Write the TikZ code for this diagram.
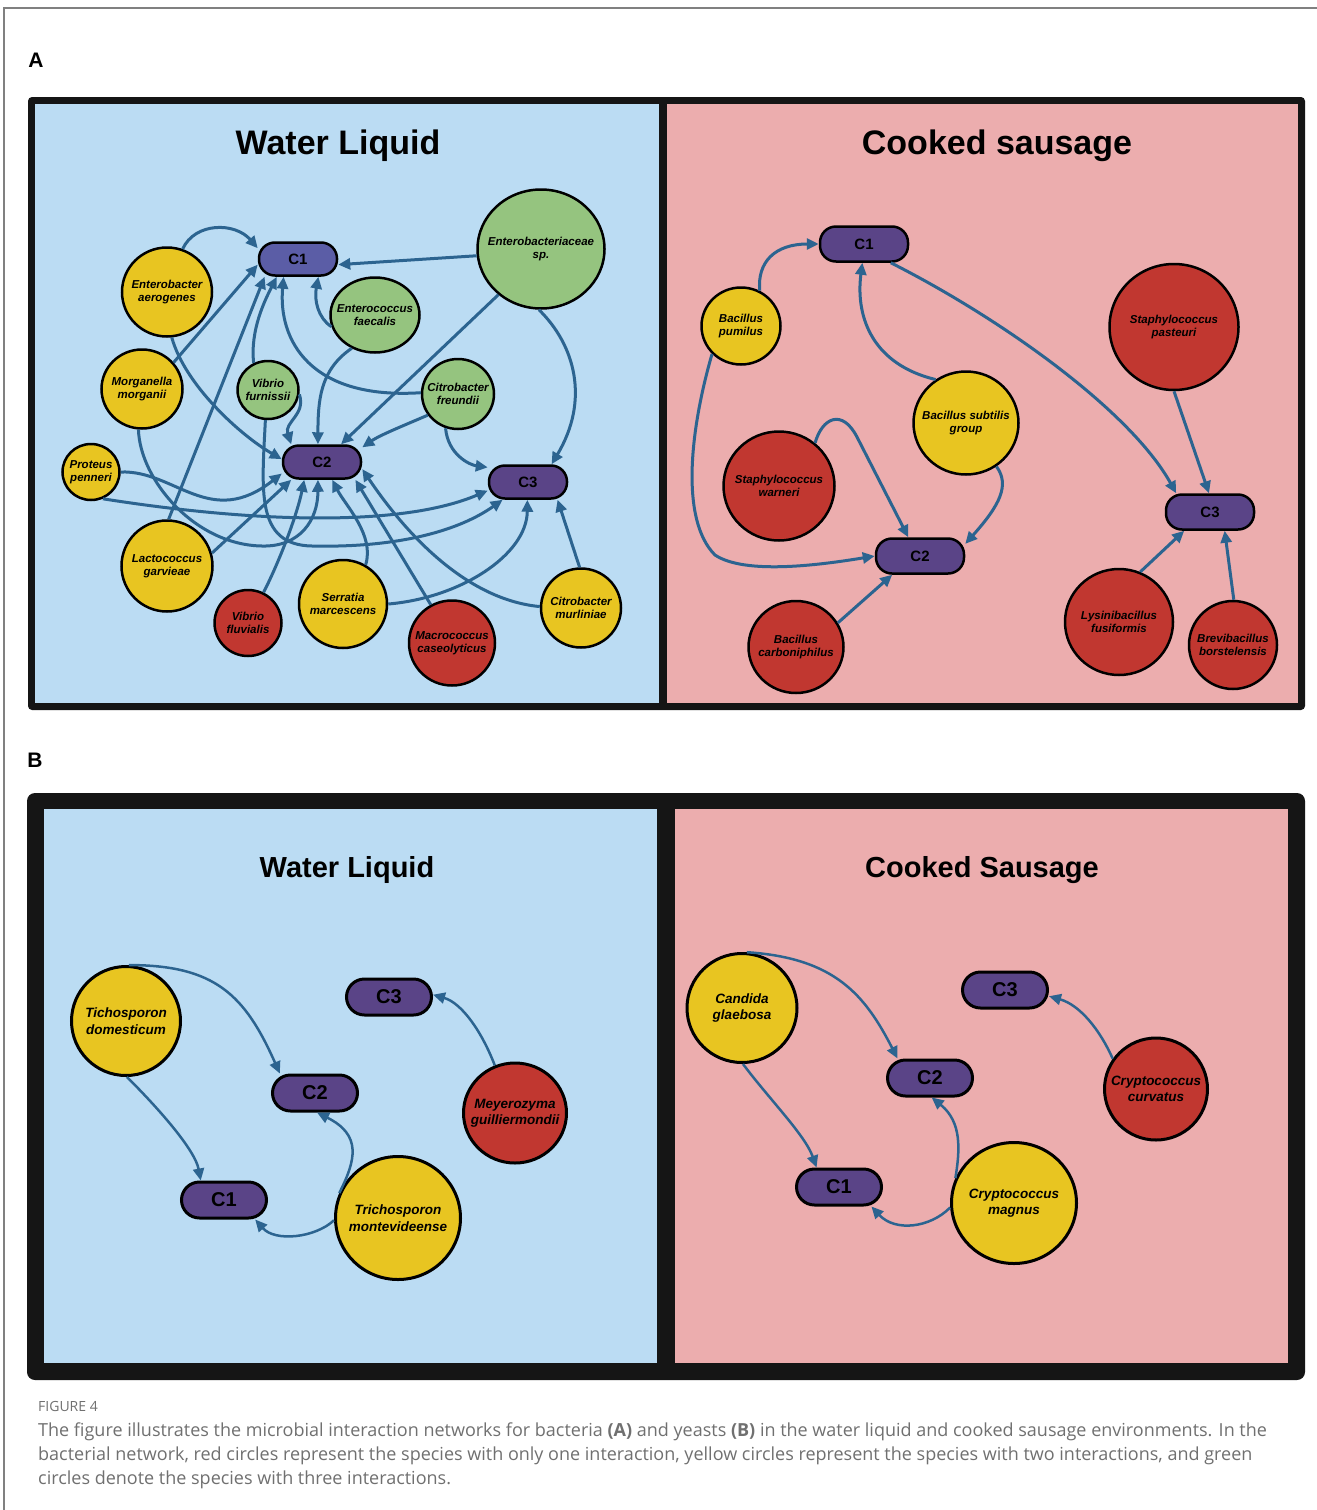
\documentclass[tikz,border=0pt]{standalone}
\usepackage{fontspec}
\setmainfont{Liberation Sans}
\newfontfamily\captionfont{Open Sans}
\usetikzlibrary{arrows.meta,shapes.geometric}

\definecolor{waterbg}{HTML}{BBDCF3}
\definecolor{sausagebg}{HTML}{ECADAE}
\definecolor{nodeyellow}{HTML}{E8C521}
\definecolor{nodered}{HTML}{C13730}
\definecolor{nodegreen}{HTML}{95C47F}
\definecolor{clusterpurple}{HTML}{5A4487}
\definecolor{clusterblue}{HTML}{5B5DA6}
\definecolor{linkblue}{HTML}{2C6490}
\definecolor{framedark}{HTML}{151515}
\definecolor{captiongray}{HTML}{707070}

\tikzset{
  panellabel/.style={font=\fontsize{21}{21}\selectfont\bfseries, inner sep=0pt},
  titleA/.style={font=\fontsize{34}{40}\selectfont\bfseries, inner sep=0pt},
  titleB/.style={font=\fontsize{29}{34}\selectfont\bfseries, inner sep=0pt},
  sz/.style 2 args={minimum width=#1pt, minimum height=#2pt},
  species/.style={ellipse, draw=black, line width=2.5pt, inner sep=0pt},
  yellownode/.style={species, fill=nodeyellow},
  rednode/.style={species, fill=nodered},
  greennode/.style={species, fill=nodegreen},
  sptext/.style={align=center, inner sep=0pt, font=\fontsize{11.5}{13.5}\selectfont\bfseries\itshape},
  sptextB/.style={align=center, inner sep=0pt, font=\fontsize{13.5}{16.5}\selectfont\bfseries\itshape},
  cluster/.style={rectangle, rounded corners=16pt, draw=black, line width=2.5pt, fill=clusterpurple, inner sep=0pt, font=\fontsize{15}{15}\selectfont\bfseries},
  clusterB/.style={cluster, rounded corners=18pt, line width=3pt, font=\fontsize{20}{20}\selectfont\bfseries},
  linkA/.style={draw=linkblue, line width=3pt, -{Triangle[length=12pt,width=11pt]}},
  linkB/.style={linkA, line width=2.5pt},
  captext/.style={anchor=base west, inner sep=0pt, text=captiongray, font=\captionfont\fontsize{18}{24}\selectfont},
}

\begin{document}
\begin{tikzpicture}[x=1pt, y=-1pt]
        \useasboundingbox (0,0) rectangle (1317,1510);
        \fill[white] (0,0) rectangle (1317,1510);
        \draw[gray, line width=1.5pt] (4,1510) -- (4,8) -- (1317,8);
        \node[panellabel] (labA) at (36,60) {A};
        \node[panellabel] (labB) at (35,760) {B};

        % Panel A frames
        \fill[framedark, rounded corners=4pt] (28,97) rectangle (1305,710);
        \fill[waterbg] (35,104) rectangle (659,703);
        \fill[sausagebg] (667,104) rectangle (1298,703);
        \node[titleA] (titleWA) at (338,146) {Water Liquid};
        \node[titleA] (titleCA) at (997,146) {Cooked sausage};

        % Panel B frames
        \fill[framedark, rounded corners=8pt] (27,793) rectangle (1305,1380);
        \fill[waterbg] (44,809) rectangle (657,1363);
        \fill[sausagebg] (675,809) rectangle (1288,1363);
        \node[titleB] (titleWB) at (347,870) {Water Liquid};
        \node[titleB] (titleCB) at (982,870) {Cooked Sausage};

        % A: water liquid
        \node[cluster, sz={78}{33}, fill=clusterblue] (c1a) at (298,259) {C1};
        \node[cluster, sz={78}{33}] (c2a) at (322,462) {C2};
        \node[cluster, sz={78}{33}] (c3a) at (528,482) {C3};
        \node[yellownode, sz={90}{89}, label={[sptext]center:Enterobacter\\aerogenes}] (ea) at (167,292) {};
        \node[yellownode, sz={81}{79}, label={[sptext]center:Morganella\\morganii}] (mm) at (142,389) {};
        \node[yellownode, sz={57}{56}, label={[sptext]center:Proteus\\penneri}] (pp) at (91,472) {};
        \node[yellownode, sz={91}{91}, label={[sptext]center:Lactococcus\\garvieae}] (lg) at (167,566) {};
        \node[rednode, sz={67}{66}, label={[sptext]center:Vibrio\\fluvialis}] (vfl) at (248,623) {};
        \node[yellownode, sz={88}{88}, label={[sptext]center:Serratia\\marcescens}] (sm) at (343,604) {};
        \node[rednode, sz={86}{85}, label={[sptext]center:Macrococcus\\caseolyticus}] (mc) at (452,643) {};
        \node[yellownode, sz={80}{79}, label={[sptext]center:Citrobacter\\murliniae}] (cm) at (581,608) {};
        \node[greennode, sz={61}{58}, label={[sptext]center:Vibrio\\furnissii}] (vfu) at (268,390) {};
        \node[greennode, sz={89}{75}, label={[sptext]center:Enterococcus\\faecalis}] (ef) at (375,315) {};
        \node[greennode, sz={127}{119}, label={[sptext]center:Enterobacteriaceae\\sp.}] (ebs) at (541,249) {};
        \node[greennode, sz={72}{70}, label={[sptext]center:Citrobacter\\freundii}] (cf) at (458,394) {};

        \draw[linkA] (ea.70) .. controls (195,222) and (235,222) .. (c1a.165);
        \draw[linkA] (mm.40) -- (c1a.188);
        \draw[linkA] (lg.88) -- (c1a.208);
        \draw[linkA] (vfu.118) .. controls (250,330) and (265,300) .. (c1a.220);
        \draw[linkA] (cf.178) .. controls (310,400) and (278,340) .. (c1a.231);
        \draw[linkA] (ef.195) .. controls (318,318) and (314,300) .. (c1a.-41);
        \draw[linkA] (ebs.186) -- (c1a.-8);

        \draw[linkA] (ea.-84) .. controls (185,385) and (240,435) .. (c2a.176);
        \draw[linkA] (pp.0) .. controls (175,470) and (210,530) .. (c2a.196);
        \draw[linkA] (mm.-95) .. controls (140,480) and (195,545) .. (262,546) .. controls (300,547) and (318,520) .. (c2a.-103);
        \draw[linkA] (lg.16) -- (c2a.-150);
        \draw[linkA] (vfl.63) .. controls (280,560) and (297,515) .. (c2a.-135);
        \draw[linkA] (sm.60) .. controls (375,535) and (345,505) .. (c2a.-60);
        \draw[linkA] (mc.119) -- (c2a.-28);
        \draw[linkA] (cm.178) .. controls (470,600) and (410,540) .. (c2a.-10);
        \draw[linkA] (vfu.-8) .. controls (306,415) and (284,422) .. (c2a.150);
        \draw[linkA] (ef.-125) .. controls (320,370) and (318,400) .. (c2a.103);
        \draw[linkA] (ebs.-133) -- (c2a.43);
        \draw[linkA] (cf.-145) .. controls (405,425) and (380,435) .. (c2a.20);

        \draw[linkA] (ebs.-92) .. controls (575,345) and (590,400) .. (c3a.37);
        \draw[linkA] (cf.-110) .. controls (448,455) and (470,465) .. (c3a.160);
        \draw[linkA] (pp.-66) .. controls (250,522) and (400,528) .. (c3a.192);
        \draw[linkA] (vfu.-95) .. controls (262,490) and (255,545) .. (312,546) .. controls (400,548) and (460,530) .. (c3a.-145);
        \draw[linkA] (sm.0) .. controls (460,598) and (527,555) .. (c3a.-92);
        \draw[linkA] (cm.92) -- (c3a.-31);

        % A: cooked sausage
        \node[cluster, sz={88}{35}] (c1b) at (864,244) {C1};
        \node[cluster, sz={88}{35}] (c2b) at (920,556) {C2};
        \node[cluster, sz={88}{35}] (c3b) at (1210,512) {C3};
        \node[yellownode, sz={79}{77}, label={[sptext]center:Bacillus\\pumilus}] (bp) at (741,326) {};
        \node[rednode, sz={129}{126}, label={[sptext]center:Staphylococcus\\pasteuri}] (spa) at (1174,327) {};
        \node[yellownode, sz={105}{103}, label={[sptext]center:Bacillus subtilis\\group}] (bs) at (966,423) {};
        \node[rednode, sz={111}{109}, label={[sptext]center:Staphylococcus\\warneri}] (sw) at (779,486) {};
        \node[rednode, sz={95}{92}, label={[sptext]center:Bacillus\\carboniphilus}] (bc) at (796,647) {};
        \node[rednode, sz={108}{106}, label={[sptext]center:Lysinibacillus\\fusiformis}] (lf) at (1119,622) {};
        \node[rednode, sz={88}{88}, label={[sptext]center:Brevibacillus\\borstelensis}] (bb) at (1233,645) {};

        \draw[linkA] (bp.62) .. controls (757,262) and (775,244) .. (c1b.180);
        \draw[linkA] (bp.-136) .. controls (690,430) and (680,520) .. (715,555) .. controls (745,575) and (820,565) .. (c2b.180);
        \draw[linkA] (bs.125) .. controls (875,365) and (855,320) .. (c1b.-95);
        \draw[linkA] (bs.-55) .. controls (1010,485) and (1000,505) .. (c2b.15);
        \draw[linkA] (sw.50) .. controls (822,418) and (842,408) .. (857,437) -- (c2b.122);
        \draw[linkA] (bc.30) -- (c2b.-146);
        \draw[linkA] (c1b.-35) .. controls (1000,318) and (1130,410) .. (c3b.151);
        \draw[linkA] (spa.-90) -- (c3b.93);
        \draw[linkA] (lf.67) -- (c3b.-144);
        \draw[linkA] (bb.89) -- (c3b.-52);

        % B: water liquid
        \node[clusterB, sz={85}{36}] (c1c) at (224,1200) {C1};
        \node[clusterB, sz={85}{36}] (c2c) at (315,1093) {C2};
        \node[clusterB, sz={85}{36}] (c3c) at (389,997) {C3};
        \node[yellownode, line width=3pt, sz={109}{109}, label={[sptextB]center:Tichosporon\\domesticum}] (td) at (126,1021) {};
        \node[yellownode, line width=3pt, sz={125}{123}, label={[sptextB]center:Trichosporon\\montevideense}] (tm) at (398,1218) {};
        \node[rednode, line width=3pt, sz={103}{100}, label={[sptextB]center:Meyerozyma\\guilliermondii}] (mg) at (515,1113) {};

        \draw[linkB] (td.87) .. controls (215,965) and (245,995) .. (c2c.151);
        \draw[linkB] (td.-89) .. controls (160,1110) and (195,1150) .. (c1c.140);
        \draw[linkB] (tm.182) .. controls (315,1238) and (275,1242) .. (c1c.-32);
        \draw[linkB] (tm.157) .. controls (356,1160) and (362,1135) .. (c2c.-84);
        \draw[linkB] (mg.113) .. controls (482,1032) and (462,1003) .. (c3c.3);

        % B: cooked sausage
        \node[clusterB, sz={85}{36}] (c1d) at (839,1187) {C1};
        \node[clusterB, sz={85}{36}] (c2d) at (930,1078) {C2};
        \node[clusterB, sz={85}{36}] (c3d) at (1005,990) {C3};
        \node[yellownode, line width=3pt, sz={110}{109}, label={[sptextB]center:Candida\\glaebosa}] (cg) at (742,1008) {};
        \node[rednode, line width=3pt, sz={103}{102}, label={[sptextB]center:Cryptococcus\\curvatus}] (cc) at (1156,1089) {};
        \node[yellownode, line width=3pt, sz={125}{121}, label={[sptextB]center:Cryptococcus\\magnus}] (cmg) at (1014,1203) {};

        \draw[linkB] (cg.85) .. controls (835,958) and (865,995) .. (c2d.149);
        \draw[linkB] (cg.-89) .. controls (770,1100) and (805,1135) .. (c1d.139);
        \draw[linkB] (cmg.184) .. controls (930,1228) and (895,1232) .. (c1d.-31);
        \draw[linkB] (cmg.157) .. controls (960,1150) and (962,1122) .. (c2d.-85);
        \draw[linkB] (cc.145) .. controls (1100,1030) and (1080,1005) .. (c3d.-8);

        % caption
        \node[captext, font=\captionfont\fontsize{14}{14}\selectfont] (figno) at (38,1411) {FIGURE 4};
        \node[captext] (cap1) at (38,1436) {The figure illustrates the microbial interaction networks for bacteria \textbf{(A)} and yeasts \textbf{(B)} in the water liquid and cooked sausage environments. In the};
        \node[captext] (cap2) at (38,1460) {bacterial network, red circles represent the species with only one interaction, yellow circles represent the species with two interactions, and green};
        \node[captext] (cap3) at (38,1484) {circles denote the species with three interactions.};
\end{tikzpicture}
\end{document}
